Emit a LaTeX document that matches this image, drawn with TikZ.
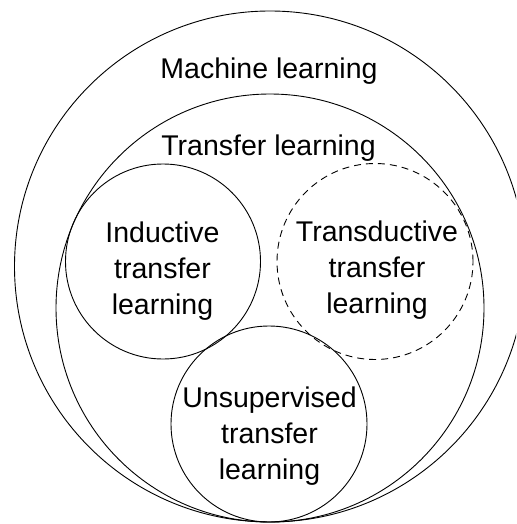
\documentclass[tikz,border=0pt]{standalone}
\usepackage{fontspec}
\setmainfont{Liberation Sans}
\begin{document}
\begin{tikzpicture}[x=1pt,y=-1pt,
  ring/.style={circle,draw=black,line width=0.9pt,inner sep=0pt,outer sep=0pt},
  hidden/.style={ring,dash pattern=on 7pt off 5pt},
  caption/.style={align=center,inner sep=0pt,font=\fontsize{28.5}{36}\selectfont}]
  \useasboundingbox (0,0) rectangle (516,524);
  \clip (0,0) rectangle (516,524);
  % nested sets
  \node[ring,minimum size=511pt] (ml) at (270,266.5) {};
  \node[ring,minimum size=428pt] (tl) at (270,308) {};
  \node[ring,minimum size=195pt] (itl) at (163,261.5) {};
  \node[hidden,minimum size=196pt] (ttl) at (375,261.5) {};
  \node[ring,minimum size=196pt] (utl) at (269,424) {};
  % labels
  \node[caption,anchor=base] (mltext) at (269,79) {Machine learning};
  \node[caption,anchor=base] (tltext) at (268.5,155) {Transfer learning};
  \node[caption] (itltext) at (162.5,271.6) {Inductive\\transfer\\learning};
  \node[caption] (ttltext) at (377,270) {Transductive\\transfer\\learning};
  \node[caption] (utltext) at (269.5,436.6) {Unsupervised\\transfer\\learning};
\end{tikzpicture}
\end{document}
